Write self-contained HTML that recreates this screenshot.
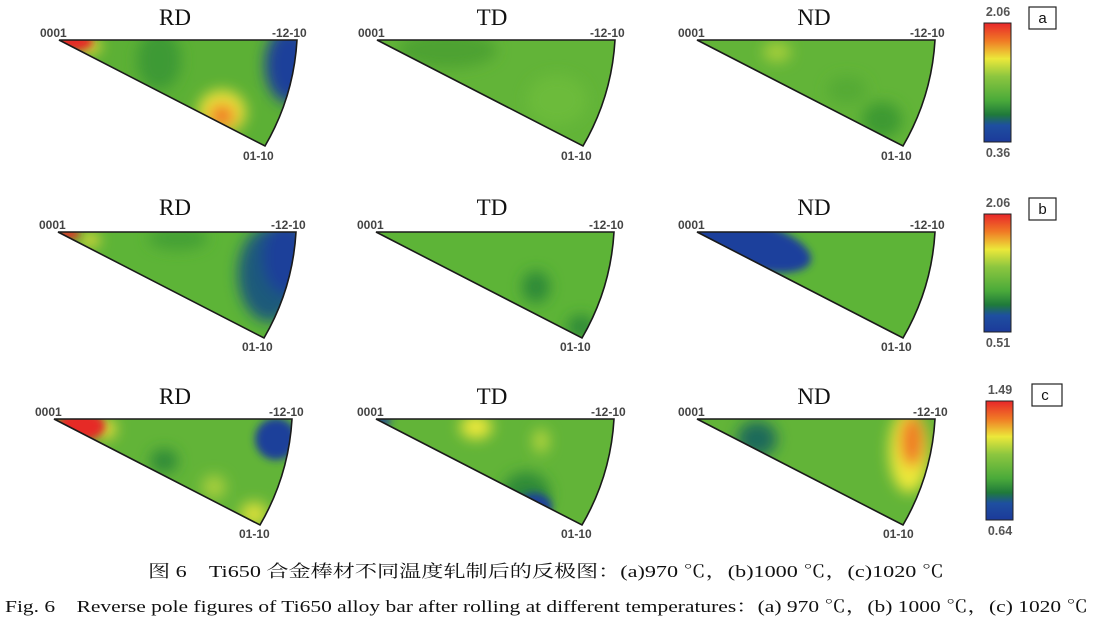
<!DOCTYPE html>
<html><head><meta charset="utf-8"><style>
html,body{margin:0;padding:0;background:#fff;}
svg{display:block;}
</style></head><body>
<svg width="1093" height="620" viewBox="0 0 1093 620" xmlns="http://www.w3.org/2000/svg">
<defs>
<clipPath id="sec"><path d="M0 0 L238 0 A238 238 0 0 1 206 106 Z"/></clipPath>
<filter id="bl" x="-50%" y="-50%" width="200%" height="200%"><feGaussianBlur stdDeviation="7"/></filter>
<filter id="bl2" x="-50%" y="-50%" width="200%" height="200%"><feGaussianBlur stdDeviation="4"/></filter>
<linearGradient id="cb" x1="0" y1="0" x2="0" y2="1">
<stop offset="0" stop-color="#e8262a"/><stop offset="0.15" stop-color="#f07a25"/>
<stop offset="0.3" stop-color="#ece83a"/><stop offset="0.45" stop-color="#8cc63f"/>
<stop offset="0.65" stop-color="#4aaa3a"/><stop offset="0.77" stop-color="#1f7a3a"/>
<stop offset="0.86" stop-color="#1e4fa0"/><stop offset="1" stop-color="#1c3a9a"/>
</linearGradient>
<g id="outline"><path d="M0 0 L238 0 A238 238 0 0 1 206 106 Z" fill="none" stroke="#1a1a1a" stroke-width="1.6"/></g>
</defs>
<style>
.lb{font-family:"Liberation Sans",sans-serif;font-size:12px;font-weight:bold;fill:#444;}
.tt{font-family:"Liberation Serif",serif;font-size:23px;fill:#111;}
.cv{font-family:"Liberation Sans",sans-serif;font-size:12.5px;font-weight:bold;fill:#555;}
</style>

<!-- ROW A -->
<g transform="translate(59,40)">
 <g clip-path="url(#sec)"><rect x="0" y="0" width="240" height="110" fill="#5cb035"/>
  <g filter="url(#bl)">
   <ellipse cx="100" cy="20" rx="22" ry="30" fill="#3d9a35"/>
   <ellipse cx="230" cy="25" rx="24" ry="38" fill="#1d3f9a"/>
   <ellipse cx="163" cy="72" rx="24" ry="22" fill="#ece23a"/>
   <ellipse cx="163" cy="76" rx="13" ry="12" fill="#f07a25"/>
   <ellipse cx="30" cy="6" rx="12" ry="8" fill="#ecdd3a"/>
  </g>
  <ellipse cx="14" cy="2" rx="20" ry="9" fill="#e62a25" filter="url(#bl2)"/>
 </g><use href="#outline"/>
</g>
<g transform="translate(377,40)">
 <g clip-path="url(#sec)"><rect x="0" y="0" width="240" height="110" fill="#62b438"/>
  <g filter="url(#bl)"><ellipse cx="70" cy="10" rx="50" ry="18" fill="#4ea232"/><ellipse cx="180" cy="60" rx="30" ry="25" fill="#6cbb3a"/></g>
 </g><use href="#outline"/>
</g>
<g transform="translate(697,40)">
 <g clip-path="url(#sec)"><rect x="0" y="0" width="240" height="110" fill="#62b438"/>
  <g filter="url(#bl)"><ellipse cx="80" cy="12" rx="14" ry="10" fill="#a6cf3a"/><ellipse cx="185" cy="80" rx="20" ry="18" fill="#3e9a33"/><ellipse cx="150" cy="50" rx="20" ry="14" fill="#55aa35"/></g>
 </g><use href="#outline"/>
</g>

<!-- ROW B -->
<g transform="translate(58,232)">
 <g clip-path="url(#sec)"><rect x="0" y="0" width="240" height="110" fill="#5db437"/>
  <g filter="url(#bl)">
   <ellipse cx="120" cy="6" rx="30" ry="12" fill="#45a035"/>
   <ellipse cx="212" cy="42" rx="32" ry="48" fill="#1f5a7a"/>
   <ellipse cx="228" cy="25" rx="24" ry="38" fill="#1d3f9a"/>
   <ellipse cx="32" cy="8" rx="10" ry="7" fill="#ecdd3a"/>
  </g>
  <ellipse cx="10" cy="2" rx="12" ry="5" fill="#e62a25" filter="url(#bl2)"/>
 </g><use href="#outline"/>
</g>
<g transform="translate(376,232)">
 <g clip-path="url(#sec)"><rect x="0" y="0" width="240" height="110" fill="#5db437"/>
  <g filter="url(#bl)"><ellipse cx="160" cy="55" rx="14" ry="16" fill="#2f8a38"/><ellipse cx="205" cy="95" rx="14" ry="12" fill="#2f8a38"/></g>
 </g><use href="#outline"/>
</g>
<g transform="translate(697,232)">
 <g clip-path="url(#sec)"><rect x="0" y="0" width="240" height="110" fill="#5db437"/>
  <g filter="url(#bl2)"><ellipse cx="50" cy="12" rx="66" ry="24" fill="#1e3f9c" transform="rotate(15 50 12)"/></g>
 </g><use href="#outline"/>
</g>

<!-- ROW C -->
<g transform="translate(54,419)">
 <g clip-path="url(#sec)"><rect x="0" y="0" width="240" height="110" fill="#62b438"/>
  <g filter="url(#bl)">
   <ellipse cx="110" cy="42" rx="14" ry="12" fill="#2f8a38"/>
   <ellipse cx="160" cy="68" rx="12" ry="12" fill="#a8cf3c"/>
   <ellipse cx="200" cy="95" rx="14" ry="12" fill="#d9df3a"/>
   <ellipse cx="52" cy="10" rx="10" ry="10" fill="#ecdd3a"/>
  </g>
  <g filter="url(#bl2)">
   <ellipse cx="27" cy="7" rx="24" ry="15" fill="#e62a25"/>
   <ellipse cx="222" cy="20" rx="21" ry="21" fill="#1d3f9a"/>
  </g>
 </g><use href="#outline"/>
</g>
<g transform="translate(376,419)">
 <g clip-path="url(#sec)"><rect x="0" y="0" width="240" height="110" fill="#62b438"/>
  <g filter="url(#bl)">
   <ellipse cx="100" cy="8" rx="16" ry="12" fill="#ece83a"/>
   <ellipse cx="165" cy="22" rx="8" ry="12" fill="#b6d63c"/>
   <ellipse cx="150" cy="75" rx="24" ry="22" fill="#2f8a38"/>
  </g>
  <g filter="url(#bl2)"><ellipse cx="158" cy="88" rx="18" ry="14" fill="#1d3f9a"/><ellipse cx="6" cy="2" rx="9" ry="5" fill="#1d3f9a"/></g>
 </g><use href="#outline"/>
</g>
<g transform="translate(697,419)">
 <g clip-path="url(#sec)"><rect x="0" y="0" width="240" height="110" fill="#62b438"/>
  <g filter="url(#bl)">
   <ellipse cx="60" cy="20" rx="20" ry="18" fill="#1f6a5a"/>
   <ellipse cx="212" cy="32" rx="20" ry="42" fill="#ece83a"/>
   <ellipse cx="215" cy="22" rx="12" ry="26" fill="#f07a25"/>
  </g>
 </g><use href="#outline"/>
</g>

<!-- labels -->
<g class="lb">
 <text x="40" y="37">0001</text><text x="272" y="37">-12-10</text><text x="243" y="160">01-10</text>
 <text x="358" y="37">0001</text><text x="590" y="37">-12-10</text><text x="561" y="160">01-10</text>
 <text x="678" y="37">0001</text><text x="910" y="37">-12-10</text><text x="881" y="160">01-10</text>
 <text x="39" y="229">0001</text><text x="271" y="229">-12-10</text><text x="242" y="351">01-10</text>
 <text x="357" y="229">0001</text><text x="589" y="229">-12-10</text><text x="560" y="351">01-10</text>
 <text x="678" y="229">0001</text><text x="910" y="229">-12-10</text><text x="881" y="351">01-10</text>
 <text x="35" y="416">0001</text><text x="269" y="416">-12-10</text><text x="239" y="538">01-10</text>
 <text x="357" y="416">0001</text><text x="591" y="416">-12-10</text><text x="561" y="538">01-10</text>
 <text x="678" y="416">0001</text><text x="913" y="416">-12-10</text><text x="883" y="538">01-10</text>
</g>
<g class="tt" text-anchor="middle">
 <text x="175" y="25">RD</text><text x="492" y="25">TD</text><text x="814" y="25">ND</text>
 <text x="175" y="215">RD</text><text x="492" y="215">TD</text><text x="814" y="215">ND</text>
 <text x="175" y="404">RD</text><text x="492" y="404">TD</text><text x="814" y="404">ND</text>
</g>

<!-- colorbars -->
<rect x="984" y="23" width="27" height="119" fill="url(#cb)" stroke="#222" stroke-width="1"/>
<rect x="984" y="214" width="27" height="118" fill="url(#cb)" stroke="#222" stroke-width="1"/>
<rect x="986" y="401" width="27" height="119" fill="url(#cb)" stroke="#222" stroke-width="1"/>
<g class="cv" text-anchor="middle">
 <text x="998" y="16">2.06</text><text x="998" y="157">0.36</text>
 <text x="998" y="207">2.06</text><text x="998" y="347">0.51</text>
 <text x="1000" y="394">1.49</text><text x="1000" y="535">0.64</text>
</g>
<g font-family="Liberation Sans,sans-serif" font-size="15" fill="#111">
 <rect x="1029" y="7" width="27" height="22" fill="#fff" stroke="#222" stroke-width="1.2"/><text x="1042.5" y="23" text-anchor="middle">a</text>
 <rect x="1029" y="198" width="27" height="22" fill="#fff" stroke="#222" stroke-width="1.2"/><text x="1042.5" y="214" text-anchor="middle">b</text>
 <rect x="1032" y="384" width="30" height="22" fill="#fff" stroke="#222" stroke-width="1.2"/><text x="1045" y="400" text-anchor="middle">c</text>
</g>

<!-- captions -->
<text x="148" y="577" textLength="796" lengthAdjust="spacingAndGlyphs" font-family="Liberation Serif,Noto Serif CJK SC,serif" font-size="17" fill="#111">图 6　Ti650 合金棒材不同温度轧制后的反极图：(a)970 ℃，(b)1000 ℃，(c)1020 ℃</text>
<text x="5" y="612" textLength="1083" lengthAdjust="spacingAndGlyphs" font-family="Liberation Serif,Noto Serif CJK SC,serif" font-size="17" fill="#111">Fig. 6　Reverse pole figures of Ti650 alloy bar after rolling at different temperatures：(a) 970 ℃，(b) 1000 ℃，(c) 1020 ℃</text>
</svg>
</body></html>
